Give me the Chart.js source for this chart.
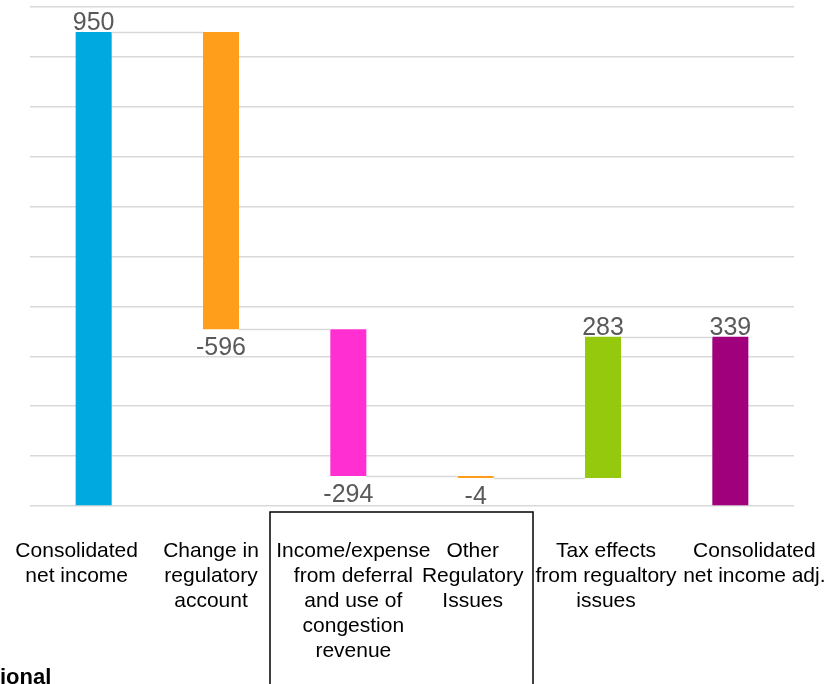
<!DOCTYPE html>
<html>
<head>
<meta charset="utf-8">
<script src="https://cdn.jsdelivr.net/npm/chart.js@4.4.1/dist/chart.umd.min.js"></script>
<style>
  html, body { margin: 0; padding: 0; background: #fff; }
  #wrap { width: 828px; height: 684px; position: relative; }
</style>
</head>
<body>
<div id="wrap"><canvas id="c" width="828" height="684"></canvas></div>
<script>
// Waterfall: consolidated net income bridged to adjusted net income
const categories = [
  ['Consolidated', 'net income'],
  ['Change in', 'regulatory', 'account'],
  ['Income/expense', 'from deferral', 'and use of', 'congestion', 'revenue'],
  ['Other', 'Regulatory', 'Issues'],
  ['Tax effects', 'from regualtory', 'issues'],
  ['Consolidated', 'net income adj.']
];
// step values; first and last are totals
const values = [950, -596, -294, -4, 283, 339];
const isTotal = [true, false, false, false, false, true];
const barColors = ['#00a9e0', '#ff9e1b', '#ff2fd2', '#ff9e1b', '#95c90e', '#a0007c'];

// horizontal nudge of each wrapped category label from its tick (px)
const labelShift = [-17, -10, 5, -3, 3, 24];

// floating ranges built from running totals
const ranges = [];
let running = 0;
values.forEach((v, i) => {
  if (isTotal[i]) {
    ranges.push([0, v]);
    running = v;
  } else {
    const next = running + v;
    ranges.push([Math.min(running, next), Math.max(running, next)]);
    running = next;
  }
});
// level each bar ends on, for the connector lines
const levels = [];
running = 0;
values.forEach((v, i) => {
  running = isTotal[i] ? v : running + v;
  levels.push(running);
});

const LABEL_FONT = '"Liberation Sans", Arial, sans-serif';

const waterfallExtras = {
  id: 'waterfallExtras',
  afterDatasetsDraw(chart) {
    const ctx = chart.ctx;
    const meta = chart.getDatasetMeta(0);
    const x = chart.scales.x;
    const y = chart.scales.y;
    ctx.save();
    // connectors between consecutive bars
    ctx.strokeStyle = '#d9d9d9';
    ctx.lineWidth = 1.5;
    for (let i = 0; i < meta.data.length - 1; i++) {
      const a = meta.data[i], b = meta.data[i + 1];
      const py = Math.round(y.getPixelForValue(levels[i])) + 0.5;
      ctx.beginPath();
      ctx.moveTo(a.x + a.width / 2, py);
      ctx.lineTo(b.x - b.width / 2, py);
      ctx.stroke();
    }
    // value labels
    ctx.fillStyle = '#595959';
    ctx.font = '25px ' + LABEL_FONT;
    ctx.textAlign = 'center';
    ctx.textBaseline = 'alphabetic';
    meta.data.forEach((bar, i) => {
      const v = values[i];
      const [lo, hi] = ranges[i];
      if (v >= 0) {
        ctx.fillText(String(v), bar.x, y.getPixelForValue(hi) - 2);
      } else {
        ctx.fillText(String(v), bar.x, y.getPixelForValue(lo) + 26);
      }
    });
    // wrapped category labels under the axis
    ctx.fillStyle = '#000';
    ctx.font = '21px ' + LABEL_FONT;
    const firstBaseline = x.top + 51;
    categories.forEach((lines, i) => {
      const cx = x.getPixelForTick(i) + labelShift[i];
      lines.forEach((line, j) => {
        ctx.fillText(line, cx, firstBaseline + j * 25);
      });
    });
    // frame around the regulatory-issue labels
    ctx.strokeStyle = '#000';
    ctx.lineWidth = 1.5;
    ctx.strokeRect(270, 512, 263, 200);
    // section heading at the lower left
    ctx.font = 'bold 22px ' + LABEL_FONT;
    ctx.textAlign = 'left';
    ctx.fillText('ional', 0, 684);
    ctx.restore();
  }
};

new Chart(document.getElementById('c'), {
  type: 'bar',
  data: {
    labels: categories,
    datasets: [{
      data: ranges,
      backgroundColor: barColors,
      borderWidth: 0,
      barPercentage: 0.566,
      categoryPercentage: 0.5
    }]
  },
  options: {
    responsive: false,
    animation: false,
    layout: { padding: { left: 30, right: 34, top: 7, bottom: 0 } },
    plugins: { legend: { display: false }, tooltip: { enabled: false } },
    scales: {
      x: {
        grid: { display: false, drawTicks: false },
        border: { display: false },
        ticks: { display: false },
        afterFit(scale) {
          scale.height = 178;
          scale.paddingLeft = 0;
          scale.paddingRight = 0;
        }
      },
      y: {
        min: 0,
        max: 1000,
        grid: { color: '#d9d9d9', lineWidth: 1.5, drawTicks: false },
        border: { display: false },
        ticks: { display: false, stepSize: 100 },
        afterFit(scale) { scale.width = 0; }
      }
    }
  },
  plugins: [waterfallExtras]
});
</script>
</body>
</html>
